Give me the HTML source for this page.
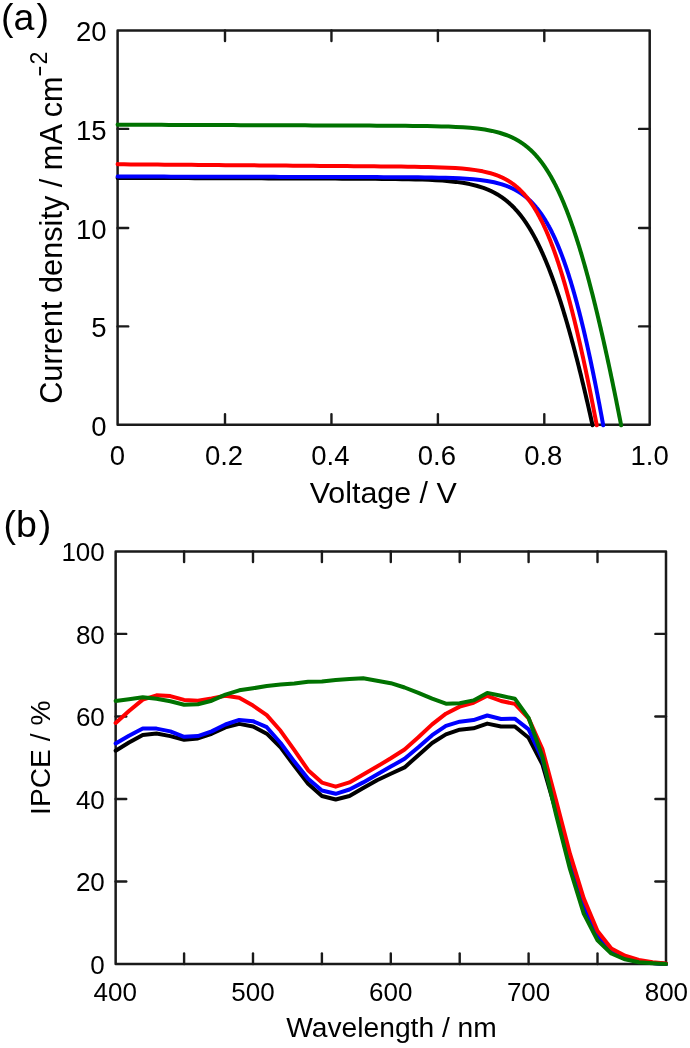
<!DOCTYPE html>
<html><head><meta charset="utf-8"><title>Figure</title>
<style>html,body{margin:0;padding:0;background:#fff;width:690px;height:1048px;overflow:hidden}svg{display:block;filter:blur(0.35px)} .t{will-change:transform}text{font-family:"Liberation Sans",sans-serif}</style>
</head><body>
<svg width="690" height="1048" viewBox="0 0 690 1048"><rect width="690" height="1048" fill="#fff"/><g fill="none" stroke="#1a1a1a" stroke-width="2.5" stroke-linecap="square" stroke-linejoin="round"><rect x="117.6" y="30.5" width="532.10" height="394.20"/></g><g stroke="#1a1a1a" stroke-width="2.4" stroke-linecap="round"><line x1="225.0" y1="424.7" x2="225.0" y2="414.09999999999997"/><line x1="225.0" y1="30.5" x2="225.0" y2="41.1"/><line x1="331.45" y1="424.7" x2="331.45" y2="414.09999999999997"/><line x1="331.45" y1="30.5" x2="331.45" y2="41.1"/><line x1="437.9" y1="424.7" x2="437.9" y2="414.09999999999997"/><line x1="437.9" y1="30.5" x2="437.9" y2="41.1"/><line x1="544.3" y1="424.7" x2="544.3" y2="414.09999999999997"/><line x1="544.3" y1="30.5" x2="544.3" y2="41.1"/><line x1="117.6" y1="326.4" x2="128.2" y2="326.4"/><line x1="649.7" y1="326.4" x2="639.1" y2="326.4"/><line x1="117.6" y1="228.0" x2="128.2" y2="228.0"/><line x1="649.7" y1="228.0" x2="639.1" y2="228.0"/><line x1="117.6" y1="128.9" x2="128.2" y2="128.9"/><line x1="649.7" y1="128.9" x2="639.1" y2="128.9"/></g><g fill="none" stroke="#1a1a1a" stroke-width="2.5" stroke-linecap="square" stroke-linejoin="round"><rect x="115.65" y="551.4" width="550.35" height="412.60"/></g><g stroke="#1a1a1a" stroke-width="2.4" stroke-linecap="round"><line x1="184.10" y1="964.0" x2="184.10" y2="953.4"/><line x1="184.10" y1="551.4" x2="184.10" y2="562.0"/><line x1="253.00" y1="964.0" x2="253.00" y2="953.4"/><line x1="253.00" y1="551.4" x2="253.00" y2="562.0"/><line x1="321.90" y1="964.0" x2="321.90" y2="953.4"/><line x1="321.90" y1="551.4" x2="321.90" y2="562.0"/><line x1="390.80" y1="964.0" x2="390.80" y2="953.4"/><line x1="390.80" y1="551.4" x2="390.80" y2="562.0"/><line x1="459.70" y1="964.0" x2="459.70" y2="953.4"/><line x1="459.70" y1="551.4" x2="459.70" y2="562.0"/><line x1="528.60" y1="964.0" x2="528.60" y2="953.4"/><line x1="528.60" y1="551.4" x2="528.60" y2="562.0"/><line x1="597.50" y1="964.0" x2="597.50" y2="953.4"/><line x1="597.50" y1="551.4" x2="597.50" y2="562.0"/><line x1="115.65" y1="881.48" x2="126.25" y2="881.48"/><line x1="666.0" y1="881.48" x2="655.4" y2="881.48"/><line x1="115.65" y1="798.96" x2="126.25" y2="798.96"/><line x1="666.0" y1="798.96" x2="655.4" y2="798.96"/><line x1="115.65" y1="716.44" x2="126.25" y2="716.44"/><line x1="666.0" y1="716.44" x2="655.4" y2="716.44"/><line x1="115.65" y1="633.92" x2="126.25" y2="633.92"/><line x1="666.0" y1="633.92" x2="655.4" y2="633.92"/></g><g fill="none" stroke-width="4.0" stroke-linejoin="round" stroke-linecap="round"><path d="M117.60,177.80 L117.60,177.82 L117.60,177.84 L117.60,177.86 L117.60,177.89 L121.31,177.91 L128.00,177.93 L134.69,177.95 L141.37,177.97 L148.06,177.99 L154.74,178.02 L161.43,178.04 L168.11,178.06 L174.80,178.08 L181.48,178.10 L188.17,178.12 L194.85,178.15 L201.54,178.17 L208.22,178.19 L214.91,178.21 L221.59,178.23 L228.28,178.25 L234.96,178.27 L241.65,178.30 L248.33,178.32 L255.02,178.34 L261.70,178.36 L268.39,178.38 L275.07,178.41 L281.76,178.43 L288.44,178.45 L295.13,178.47 L301.81,178.49 L308.50,178.52 L315.18,178.54 L321.87,178.57 L328.55,178.59 L335.24,178.62 L341.93,178.65 L348.61,178.67 L355.30,178.71 L361.98,178.74 L368.67,178.78 L375.36,178.83 L382.05,178.88 L388.74,178.95 L395.43,179.03 L402.13,179.13 L408.82,179.25 L415.53,179.40 L422.23,179.60 L428.95,179.85 L435.67,180.18 L442.40,180.61 L449.15,181.16 L455.93,181.89 L462.73,182.84 L469.56,184.09 L476.45,185.74 L483.40,187.91 L483.40,187.91 L483.62,187.99 L483.85,188.07 L484.07,188.15 L484.29,188.23 L484.52,188.31 L484.74,188.40 L484.96,188.48 L485.19,188.57 L485.41,188.65 L485.64,188.74 L485.86,188.82 L486.08,188.91 L486.31,189.00 L486.53,189.09 L486.76,189.18 L486.98,189.27 L487.21,189.36 L487.43,189.45 L487.66,189.55 L487.88,189.64 L488.11,189.74 L488.33,189.83 L488.56,189.93 L488.78,190.03 L489.01,190.12 L489.23,190.22 L489.46,190.32 L489.68,190.43 L489.91,190.53 L490.14,190.63 L490.36,190.73 L490.59,190.84 L490.81,190.94 L491.04,191.05 L491.27,191.16 L491.49,191.27 L491.72,191.38 L491.95,191.49 L492.18,191.60 L492.40,191.71 L492.63,191.82 L492.86,191.94 L493.08,192.05 L493.31,192.17 L493.54,192.29 L493.77,192.40 L494.00,192.52 L494.22,192.64 L494.45,192.77 L494.68,192.89 L494.91,193.01 L495.14,193.14 L495.37,193.26 L495.60,193.39 L495.83,193.52 L496.06,193.65 L496.28,193.78 L496.51,193.91 L496.74,194.04 L496.97,194.18 L497.20,194.31 L497.43,194.45 L497.66,194.58 L497.89,194.72 L498.13,194.86 L498.36,195.00 L498.59,195.15 L498.82,195.29 L499.05,195.44 L499.28,195.58 L499.51,195.73 L499.74,195.88 L499.98,196.03 L500.21,196.18 L500.44,196.33 L500.67,196.49 L500.91,196.64 L501.14,196.80 L501.37,196.96 L501.60,197.12 L501.84,197.28 L502.07,197.44 L502.30,197.61 L502.54,197.77 L502.77,197.94 L503.01,198.11 L503.24,198.28 L503.48,198.45 L503.71,198.62 L503.94,198.80 L504.18,198.97 L504.42,199.15 L504.65,199.33 L504.89,199.51 L505.12,199.70 L505.36,199.88 L505.59,200.07 L505.83,200.25 L506.07,200.44 L506.30,200.63 L506.54,200.83 L506.78,201.02 L507.02,201.22 L507.25,201.41 L507.49,201.61 L507.73,201.81 L507.97,202.02 L508.21,202.22 L508.45,202.43 L508.69,202.64 L508.92,202.85 L509.16,203.06 L509.40,203.27 L509.64,203.49 L509.88,203.71 L510.12,203.93 L510.37,204.15 L510.61,204.37 L510.85,204.60 L511.09,204.83 L511.33,205.06 L511.57,205.29 L511.82,205.52 L512.06,205.76 L512.30,206.00 L512.54,206.24 L512.79,206.48 L513.03,206.73 L513.27,206.97 L513.52,207.22 L513.76,207.47 L514.01,207.73 L514.25,207.98 L514.50,208.24 L514.74,208.50 L514.99,208.76 L515.23,209.03 L515.48,209.29 L515.73,209.56 L515.97,209.84 L516.22,210.11 L516.47,210.39 L516.72,210.67 L516.96,210.95 L517.21,211.23 L517.46,211.52 L517.71,211.81 L517.96,212.10 L518.21,212.40 L518.46,212.69 L518.71,212.99 L518.96,213.30 L519.21,213.60 L519.46,213.91 L519.72,214.22 L519.97,214.53 L520.22,214.85 L520.47,215.17 L520.73,215.49 L520.98,215.82 L521.23,216.14 L521.49,216.47 L521.74,216.81 L522.00,217.15 L522.25,217.48 L522.51,217.83 L522.76,218.17 L523.02,218.52 L523.28,218.87 L523.53,219.23 L523.79,219.59 L524.05,219.95 L524.31,220.31 L524.57,220.68 L524.83,221.05 L525.09,221.43 L525.35,221.80 L525.61,222.18 L525.87,222.57 L526.13,222.96 L526.39,223.35 L526.65,223.74 L526.91,224.14 L527.18,224.54 L527.44,224.95 L527.70,225.36 L527.97,225.77 L528.23,226.19 L528.50,226.61 L528.76,227.03 L529.03,227.46 L529.30,227.89 L529.56,228.33 L529.83,228.77 L530.10,229.21 L530.37,229.66 L530.64,230.11 L530.91,230.56 L531.18,231.02 L531.45,231.48 L531.72,231.95 L531.99,232.42 L532.26,232.90 L532.53,233.38 L532.81,233.86 L533.08,234.35 L533.36,234.84 L533.63,235.34 L533.91,235.84 L534.18,236.35 L534.46,236.86 L534.73,237.38 L535.01,237.90 L535.29,238.42 L535.57,238.95 L535.85,239.48 L536.13,240.02 L536.41,240.57 L536.69,241.11 L536.97,241.67 L537.25,242.23 L537.54,242.79 L537.82,243.36 L538.10,243.93 L538.39,244.51 L538.67,245.09 L538.96,245.68 L539.25,246.27 L539.53,246.87 L539.82,247.48 L540.11,248.09 L540.40,248.70 L540.69,249.32 L540.98,249.95 L541.27,250.58 L541.56,251.22 L541.86,251.86 L542.15,252.51 L542.44,253.17 L542.74,253.83 L543.04,254.50 L543.33,255.17 L543.63,255.85 L543.93,256.53 L544.23,257.22 L544.52,257.92 L544.82,258.62 L545.13,259.33 L545.43,260.05 L545.73,260.77 L546.03,261.50 L546.34,262.23 L546.64,262.97 L546.95,263.72 L547.25,264.48 L547.56,265.24 L547.87,266.01 L548.18,266.78 L548.49,267.56 L548.80,268.35 L549.11,269.15 L549.42,269.95 L549.74,270.76 L550.05,271.58 L550.37,272.41 L550.68,273.24 L551.00,274.08 L551.32,274.93 L551.64,275.78 L551.96,276.64 L552.28,277.51 L552.60,278.39 L552.92,279.28 L553.25,280.17 L553.57,281.07 L553.90,281.98 L554.22,282.90 L554.55,283.82 L554.88,284.76 L555.21,285.70 L555.54,286.65 L555.87,287.61 L556.20,288.58 L556.54,289.56 L556.87,290.54 L557.21,291.54 L557.55,292.54 L557.88,293.55 L558.22,294.57 L558.56,295.60 L558.91,296.64 L559.25,297.69 L559.59,298.75 L559.94,299.81 L560.28,300.89 L560.63,301.98 L560.98,303.07 L561.33,304.18 L561.68,305.30 L562.03,306.42 L562.39,307.56 L562.74,308.70 L563.10,309.86 L563.46,311.03 L563.81,312.20 L564.17,313.39 L564.53,314.59 L564.90,315.80 L565.26,317.02 L565.63,318.25 L565.99,319.49 L566.36,320.74 L566.73,322.00 L567.10,323.28 L567.47,324.56 L567.85,325.86 L568.22,327.17 L568.60,328.49 L568.98,329.82 L569.36,331.17 L569.74,332.53 L570.12,333.89 L570.50,335.28 L570.89,336.67 L571.27,338.07 L571.66,339.49 L572.05,340.92 L572.44,342.37 L572.84,343.82 L573.23,345.29 L573.63,346.78 L574.03,348.27 L574.43,349.78 L574.83,351.30 L575.23,352.84 L575.64,354.39 L576.04,355.95 L576.45,357.53 L576.86,359.12 L577.27,360.73 L577.69,362.35 L578.10,363.98 L578.52,365.63 L578.94,367.30 L579.36,368.98 L579.78,370.67 L580.20,372.38 L580.63,374.10 L581.06,375.84 L581.49,377.60 L581.92,379.37 L582.35,381.16 L582.79,382.96 L583.23,384.78 L583.67,386.61 L584.11,388.47 L584.55,390.33 L585.00,392.22 L585.45,394.12 L585.90,396.04 L586.35,397.97 L586.81,399.93 L587.26,401.90 L587.72,403.88 L588.18,405.89 L588.64,407.91 L589.11,409.95 L589.58,412.01 L590.05,414.09 L590.52,416.19 L590.99,418.30 L591.47,420.44 L591.95,422.59 L592.43,424.76 L592.55,425.30" stroke="#000000"/><path d="M117.60,176.46 L117.60,176.48 L117.60,176.50 L117.60,176.51 L122.90,176.53 L129.76,176.54 L136.63,176.56 L143.49,176.57 L150.36,176.59 L157.22,176.60 L164.09,176.62 L170.95,176.63 L177.82,176.65 L184.68,176.67 L191.55,176.68 L198.41,176.70 L205.28,176.71 L212.14,176.73 L219.01,176.74 L225.87,176.76 L232.74,176.77 L239.60,176.79 L246.47,176.80 L253.33,176.82 L260.20,176.83 L267.06,176.85 L273.93,176.87 L280.79,176.88 L287.66,176.90 L294.52,176.91 L301.39,176.93 L308.25,176.94 L315.12,176.96 L321.98,176.98 L328.85,176.99 L335.72,177.01 L342.58,177.03 L349.45,177.04 L356.31,177.06 L363.18,177.08 L370.04,177.10 L376.91,177.12 L383.77,177.15 L390.64,177.18 L397.51,177.21 L404.37,177.25 L411.24,177.29 L418.11,177.35 L424.98,177.43 L431.85,177.53 L438.73,177.65 L445.61,177.82 L452.49,178.04 L459.38,178.34 L466.28,178.73 L473.20,179.27 L480.13,180.00 L487.08,180.98 L494.07,182.31 L501.10,184.13 L501.10,184.13 L501.32,184.19 L501.54,184.26 L501.76,184.33 L501.98,184.39 L502.20,184.46 L502.42,184.53 L502.64,184.60 L502.86,184.67 L503.08,184.74 L503.30,184.81 L503.52,184.89 L503.74,184.96 L503.96,185.03 L504.18,185.11 L504.40,185.18 L504.62,185.26 L504.84,185.34 L505.06,185.41 L505.28,185.49 L505.50,185.57 L505.72,185.65 L505.94,185.73 L506.16,185.81 L506.38,185.89 L506.60,185.98 L506.83,186.06 L507.05,186.15 L507.27,186.23 L507.49,186.32 L507.71,186.40 L507.93,186.49 L508.15,186.58 L508.38,186.67 L508.60,186.76 L508.82,186.85 L509.04,186.94 L509.26,187.03 L509.48,187.13 L509.71,187.22 L509.93,187.32 L510.15,187.42 L510.37,187.51 L510.60,187.61 L510.82,187.71 L511.04,187.81 L511.26,187.91 L511.49,188.01 L511.71,188.12 L511.93,188.22 L512.15,188.33 L512.38,188.43 L512.60,188.54 L512.82,188.65 L513.05,188.76 L513.27,188.87 L513.50,188.98 L513.72,189.09 L513.94,189.20 L514.17,189.32 L514.39,189.44 L514.61,189.55 L514.84,189.67 L515.06,189.79 L515.29,189.91 L515.51,190.03 L515.74,190.15 L515.96,190.28 L516.19,190.40 L516.41,190.53 L516.64,190.66 L516.86,190.78 L517.09,190.91 L517.31,191.05 L517.54,191.18 L517.76,191.31 L517.99,191.45 L518.22,191.58 L518.44,191.72 L518.67,191.86 L518.89,192.00 L519.12,192.14 L519.35,192.28 L519.57,192.43 L519.80,192.57 L520.03,192.72 L520.25,192.87 L520.48,193.02 L520.71,193.17 L520.94,193.32 L521.16,193.48 L521.39,193.63 L521.62,193.79 L521.85,193.95 L522.08,194.11 L522.30,194.27 L522.53,194.44 L522.76,194.60 L522.99,194.77 L523.22,194.94 L523.45,195.11 L523.68,195.28 L523.91,195.45 L524.14,195.63 L524.37,195.80 L524.60,195.98 L524.83,196.16 L525.06,196.34 L525.29,196.53 L525.52,196.71 L525.75,196.90 L525.98,197.09 L526.21,197.28 L526.44,197.47 L526.67,197.66 L526.90,197.86 L527.13,198.06 L527.37,198.26 L527.60,198.46 L527.83,198.66 L528.06,198.87 L528.30,199.08 L528.53,199.29 L528.76,199.50 L528.99,199.71 L529.23,199.93 L529.46,200.15 L529.69,200.37 L529.93,200.59 L530.16,200.81 L530.40,201.04 L530.63,201.27 L530.87,201.50 L531.10,201.73 L531.34,201.97 L531.57,202.21 L531.81,202.45 L532.04,202.69 L532.28,202.93 L532.51,203.18 L532.75,203.43 L532.99,203.68 L533.22,203.94 L533.46,204.19 L533.70,204.45 L533.94,204.71 L534.17,204.98 L534.41,205.25 L534.65,205.51 L534.89,205.79 L535.13,206.06 L535.37,206.34 L535.61,206.62 L535.85,206.90 L536.08,207.19 L536.32,207.47 L536.56,207.77 L536.81,208.06 L537.05,208.36 L537.29,208.65 L537.53,208.96 L537.77,209.26 L538.01,209.57 L538.25,209.88 L538.50,210.20 L538.74,210.51 L538.98,210.83 L539.23,211.16 L539.47,211.48 L539.71,211.81 L539.96,212.15 L540.20,212.48 L540.45,212.82 L540.69,213.16 L540.94,213.51 L541.18,213.86 L541.43,214.21 L541.67,214.57 L541.92,214.93 L542.17,215.29 L542.41,215.66 L542.66,216.03 L542.91,216.40 L543.16,216.78 L543.41,217.16 L543.66,217.54 L543.90,217.93 L544.15,218.32 L544.40,218.72 L544.65,219.12 L544.90,219.52 L545.16,219.93 L545.41,220.34 L545.66,220.75 L545.91,221.17 L546.16,221.60 L546.42,222.02 L546.67,222.45 L546.92,222.89 L547.18,223.33 L547.43,223.77 L547.69,224.22 L547.94,224.68 L548.20,225.13 L548.45,225.59 L548.71,226.06 L548.97,226.53 L549.22,227.01 L549.48,227.48 L549.74,227.97 L550.00,228.46 L550.26,228.95 L550.52,229.45 L550.78,229.95 L551.04,230.46 L551.30,230.97 L551.56,231.49 L551.82,232.01 L552.08,232.54 L552.34,233.08 L552.61,233.61 L552.87,234.16 L553.14,234.71 L553.40,235.26 L553.66,235.82 L553.93,236.38 L554.20,236.95 L554.46,237.53 L554.73,238.11 L555.00,238.70 L555.27,239.29 L555.53,239.89 L555.80,240.49 L556.07,241.10 L556.34,241.72 L556.61,242.34 L556.89,242.97 L557.16,243.60 L557.43,244.24 L557.70,244.89 L557.98,245.54 L558.25,246.20 L558.53,246.87 L558.80,247.54 L559.08,248.21 L559.35,248.90 L559.63,249.59 L559.91,250.29 L560.19,250.99 L560.47,251.70 L560.75,252.42 L561.03,253.15 L561.31,253.88 L561.59,254.62 L561.87,255.37 L562.15,256.12 L562.44,256.88 L562.72,257.65 L563.01,258.42 L563.29,259.21 L563.58,260.00 L563.87,260.80 L564.15,261.60 L564.44,262.42 L564.73,263.24 L565.02,264.07 L565.31,264.91 L565.60,265.75 L565.90,266.61 L566.19,267.47 L566.48,268.34 L566.78,269.22 L567.07,270.11 L567.37,271.00 L567.67,271.91 L567.96,272.82 L568.26,273.74 L568.56,274.68 L568.86,275.62 L569.16,276.57 L569.47,277.52 L569.77,278.49 L570.07,279.47 L570.38,280.46 L570.68,281.45 L570.99,282.46 L571.30,283.47 L571.60,284.50 L571.91,285.53 L572.22,286.58 L572.53,287.63 L572.85,288.70 L573.16,289.78 L573.47,290.86 L573.79,291.96 L574.10,293.07 L574.42,294.19 L574.74,295.31 L575.06,296.45 L575.38,297.61 L575.70,298.77 L576.02,299.94 L576.34,301.12 L576.66,302.32 L576.99,303.53 L577.32,304.75 L577.64,305.98 L577.97,307.22 L578.30,308.48 L578.63,309.74 L578.96,311.02 L579.29,312.32 L579.63,313.62 L579.96,314.94 L580.30,316.27 L580.64,317.61 L580.98,318.96 L581.32,320.33 L581.66,321.71 L582.00,323.11 L582.34,324.52 L582.69,325.94 L583.03,327.38 L583.38,328.83 L583.73,330.29 L584.08,331.77 L584.43,333.26 L584.78,334.77 L585.14,336.29 L585.49,337.83 L585.85,339.38 L586.21,340.94 L586.57,342.52 L586.93,344.12 L587.29,345.73 L587.65,347.36 L588.02,349.00 L588.39,350.66 L588.75,352.34 L589.12,354.03 L589.49,355.74 L589.87,357.46 L590.24,359.20 L590.62,360.96 L590.99,362.73 L591.37,364.52 L591.75,366.33 L592.14,368.16 L592.52,370.00 L592.91,371.87 L593.29,373.75 L593.68,375.64 L594.07,377.56 L594.46,379.50 L594.86,381.45 L595.25,383.42 L595.65,385.42 L596.05,387.43 L596.45,389.46 L596.85,391.51 L597.26,393.58 L597.67,395.67 L598.07,397.78 L598.48,399.91 L598.90,402.06 L599.31,404.23 L599.73,406.43 L600.14,408.64 L600.56,410.88 L600.99,413.13 L601.41,415.41 L601.84,417.71 L602.26,420.04 L602.69,422.38 L603.13,424.75 L603.23,425.30" stroke="#0000ff"/><path d="M117.60,164.06 L117.60,164.12 L117.60,164.17 L117.60,164.22 L117.60,164.28 L123.98,164.33 L130.74,164.38 L137.50,164.44 L144.26,164.49 L151.02,164.54 L157.77,164.60 L164.53,164.65 L171.29,164.70 L178.05,164.76 L184.81,164.81 L191.57,164.86 L198.33,164.92 L205.09,164.97 L211.85,165.02 L218.61,165.08 L225.37,165.13 L232.13,165.18 L238.89,165.24 L245.65,165.29 L252.41,165.34 L259.17,165.39 L265.93,165.45 L272.69,165.50 L279.45,165.55 L286.21,165.61 L292.97,165.66 L299.73,165.71 L306.49,165.77 L313.25,165.82 L320.01,165.88 L326.77,165.93 L333.53,165.98 L340.29,166.04 L347.05,166.09 L353.81,166.15 L360.57,166.21 L367.33,166.26 L374.09,166.32 L380.85,166.39 L387.61,166.45 L394.37,166.52 L401.13,166.60 L407.90,166.69 L414.66,166.79 L421.43,166.90 L428.20,167.04 L434.97,167.22 L441.75,167.44 L448.53,167.72 L455.33,168.09 L462.13,168.59 L468.96,169.24 L475.81,170.13 L482.69,171.33 L489.62,172.97 L489.62,172.97 L489.84,173.03 L490.06,173.09 L490.28,173.16 L490.50,173.22 L490.72,173.28 L490.94,173.35 L491.16,173.41 L491.38,173.47 L491.60,173.54 L491.82,173.61 L492.04,173.67 L492.27,173.74 L492.49,173.81 L492.71,173.88 L492.93,173.95 L493.15,174.02 L493.37,174.09 L493.59,174.16 L493.81,174.23 L494.03,174.30 L494.25,174.38 L494.48,174.45 L494.70,174.53 L494.92,174.60 L495.14,174.68 L495.36,174.76 L495.58,174.84 L495.81,174.92 L496.03,175.00 L496.25,175.08 L496.47,175.16 L496.69,175.24 L496.92,175.32 L497.14,175.41 L497.36,175.49 L497.58,175.58 L497.81,175.66 L498.03,175.75 L498.25,175.84 L498.48,175.93 L498.70,176.02 L498.92,176.11 L499.15,176.20 L499.37,176.29 L499.59,176.39 L499.82,176.48 L500.04,176.58 L500.26,176.68 L500.49,176.77 L500.71,176.87 L500.94,176.97 L501.16,177.07 L501.38,177.17 L501.61,177.28 L501.83,177.38 L502.06,177.48 L502.28,177.59 L502.51,177.70 L502.73,177.80 L502.96,177.91 L503.18,178.02 L503.41,178.13 L503.63,178.24 L503.86,178.36 L504.08,178.47 L504.31,178.59 L504.54,178.70 L504.76,178.82 L504.99,178.94 L505.21,179.06 L505.44,179.18 L505.67,179.31 L505.89,179.43 L506.12,179.56 L506.35,179.68 L506.58,179.81 L506.80,179.94 L507.03,180.07 L507.26,180.20 L507.49,180.33 L507.71,180.47 L507.94,180.60 L508.17,180.74 L508.40,180.88 L508.63,181.02 L508.85,181.16 L509.08,181.30 L509.31,181.45 L509.54,181.59 L509.77,181.74 L510.00,181.89 L510.23,182.04 L510.46,182.19 L510.69,182.34 L510.92,182.50 L511.15,182.65 L511.38,182.81 L511.61,182.97 L511.84,183.13 L512.07,183.29 L512.30,183.46 L512.53,183.62 L512.77,183.79 L513.00,183.96 L513.23,184.13 L513.46,184.30 L513.69,184.48 L513.93,184.65 L514.16,184.83 L514.39,185.01 L514.62,185.19 L514.86,185.37 L515.09,185.56 L515.32,185.75 L515.56,185.93 L515.79,186.13 L516.03,186.32 L516.26,186.51 L516.50,186.71 L516.73,186.91 L516.97,187.11 L517.20,187.31 L517.44,187.52 L517.67,187.72 L517.91,187.93 L518.14,188.14 L518.38,188.36 L518.62,188.57 L518.85,188.79 L519.09,189.01 L519.33,189.23 L519.57,189.45 L519.80,189.68 L520.04,189.91 L520.28,190.14 L520.52,190.37 L520.76,190.61 L521.00,190.85 L521.24,191.09 L521.48,191.33 L521.72,191.58 L521.96,191.82 L522.20,192.08 L522.44,192.33 L522.68,192.58 L522.92,192.84 L523.16,193.10 L523.40,193.37 L523.64,193.63 L523.89,193.90 L524.13,194.17 L524.37,194.45 L524.62,194.72 L524.86,195.00 L525.10,195.29 L525.35,195.57 L525.59,195.86 L525.84,196.15 L526.08,196.45 L526.33,196.74 L526.57,197.04 L526.82,197.35 L527.07,197.65 L527.31,197.96 L527.56,198.27 L527.81,198.59 L528.06,198.91 L528.30,199.23 L528.55,199.56 L528.80,199.89 L529.05,200.22 L529.30,200.55 L529.55,200.89 L529.80,201.24 L530.05,201.58 L530.30,201.93 L530.55,202.28 L530.81,202.64 L531.06,203.00 L531.31,203.36 L531.56,203.73 L531.82,204.10 L532.07,204.48 L532.33,204.86 L532.58,205.24 L532.84,205.63 L533.09,206.02 L533.35,206.41 L533.60,206.81 L533.86,207.21 L534.12,207.62 L534.38,208.03 L534.63,208.44 L534.89,208.86 L535.15,209.29 L535.41,209.71 L535.67,210.15 L535.93,210.58 L536.19,211.02 L536.45,211.47 L536.72,211.92 L536.98,212.37 L537.24,212.83 L537.51,213.30 L537.77,213.76 L538.03,214.24 L538.30,214.72 L538.56,215.20 L538.83,215.69 L539.10,216.18 L539.36,216.68 L539.63,217.18 L539.90,217.69 L540.17,218.20 L540.44,218.72 L540.71,219.24 L540.98,219.77 L541.25,220.31 L541.52,220.84 L541.79,221.39 L542.07,221.94 L542.34,222.50 L542.62,223.06 L542.89,223.63 L543.17,224.20 L543.44,224.78 L543.72,225.36 L544.00,225.96 L544.27,226.55 L544.55,227.16 L544.83,227.77 L545.11,228.38 L545.39,229.00 L545.67,229.63 L545.95,230.27 L546.24,230.91 L546.52,231.55 L546.80,232.21 L547.09,232.87 L547.38,233.54 L547.66,234.21 L547.95,234.89 L548.24,235.58 L548.52,236.27 L548.81,236.98 L549.10,237.69 L549.40,238.40 L549.69,239.13 L549.98,239.86 L550.27,240.60 L550.57,241.34 L550.86,242.10 L551.16,242.86 L551.45,243.63 L551.75,244.40 L552.05,245.19 L552.35,245.98 L552.65,246.78 L552.95,247.59 L553.25,248.41 L553.55,249.23 L553.86,250.07 L554.16,250.91 L554.47,251.76 L554.77,252.62 L555.08,253.49 L555.39,254.37 L555.70,255.25 L556.01,256.15 L556.32,257.05 L556.63,257.97 L556.95,258.89 L557.26,259.82 L557.57,260.77 L557.89,261.72 L558.21,262.68 L558.53,263.65 L558.85,264.63 L559.17,265.62 L559.49,266.62 L559.81,267.63 L560.13,268.65 L560.46,269.69 L560.79,270.73 L561.11,271.78 L561.44,272.85 L561.77,273.92 L562.10,275.01 L562.43,276.10 L562.77,277.21 L563.10,278.33 L563.44,279.46 L563.77,280.60 L564.11,281.75 L564.45,282.92 L564.79,284.10 L565.13,285.29 L565.48,286.49 L565.82,287.70 L566.17,288.93 L566.52,290.16 L566.86,291.42 L567.21,292.68 L567.57,293.96 L567.92,295.25 L568.27,296.55 L568.63,297.86 L568.99,299.19 L569.34,300.54 L569.70,301.89 L570.07,303.26 L570.43,304.65 L570.79,306.05 L571.16,307.46 L571.53,308.89 L571.90,310.33 L572.27,311.78 L572.64,313.26 L573.01,314.74 L573.39,316.24 L573.77,317.76 L574.15,319.29 L574.53,320.84 L574.91,322.40 L575.29,323.98 L575.68,325.58 L576.07,327.19 L576.46,328.82 L576.85,330.46 L577.24,332.12 L577.64,333.80 L578.03,335.50 L578.43,337.21 L578.83,338.94 L579.24,340.69 L579.64,342.46 L580.05,344.24 L580.45,346.04 L580.87,347.86 L581.28,349.70 L581.69,351.56 L582.11,353.44 L582.53,355.33 L582.95,357.25 L583.37,359.18 L583.79,361.13 L584.22,363.11 L584.65,365.10 L585.08,367.12 L585.52,369.15 L585.95,371.21 L586.39,373.29 L586.83,375.38 L587.27,377.50 L587.72,379.64 L588.16,381.81 L588.61,383.99 L589.07,386.20 L589.52,388.43 L589.98,390.68 L590.44,392.96 L590.90,395.26 L591.36,397.58 L591.83,399.92 L592.30,402.29 L592.77,404.69 L593.25,407.11 L593.73,409.55 L594.21,412.02 L594.69,414.51 L595.18,417.03 L595.66,419.57 L596.16,422.14 L596.65,424.74 L596.76,425.30" stroke="#ff0000"/><path d="M117.60,124.59 L117.60,124.62 L117.60,124.64 L117.60,124.67 L117.60,124.69 L118.68,124.72 L125.85,124.74 L133.02,124.77 L140.19,124.79 L147.36,124.82 L154.53,124.84 L161.70,124.87 L168.87,124.89 L176.04,124.92 L183.21,124.94 L190.38,124.97 L197.55,124.99 L204.72,125.02 L211.89,125.04 L219.06,125.07 L226.23,125.09 L233.40,125.12 L240.57,125.14 L247.74,125.17 L254.91,125.20 L262.08,125.22 L269.25,125.25 L276.42,125.27 L283.59,125.30 L290.76,125.32 L297.93,125.35 L305.10,125.37 L312.27,125.40 L319.44,125.42 L326.61,125.45 L333.78,125.48 L340.95,125.50 L348.12,125.53 L355.29,125.56 L362.46,125.59 L369.63,125.62 L376.80,125.66 L383.98,125.69 L391.15,125.73 L398.32,125.78 L405.49,125.84 L412.67,125.90 L419.85,125.99 L427.03,126.09 L434.21,126.22 L441.40,126.40 L448.59,126.62 L455.79,126.92 L463.01,127.32 L470.24,127.86 L477.49,128.59 L484.78,129.58 L492.10,130.92 L499.48,132.74 L506.95,135.23 L506.95,135.23 L507.17,135.31 L507.39,135.40 L507.62,135.49 L507.84,135.58 L508.06,135.67 L508.29,135.76 L508.51,135.85 L508.74,135.94 L508.96,136.04 L509.19,136.13 L509.41,136.22 L509.64,136.32 L509.86,136.42 L510.09,136.51 L510.31,136.61 L510.54,136.71 L510.76,136.81 L510.99,136.91 L511.21,137.01 L511.44,137.12 L511.66,137.22 L511.89,137.33 L512.11,137.43 L512.34,137.54 L512.57,137.65 L512.79,137.76 L513.02,137.87 L513.25,137.98 L513.47,138.09 L513.70,138.20 L513.93,138.32 L514.15,138.43 L514.38,138.55 L514.61,138.66 L514.83,138.78 L515.06,138.90 L515.29,139.02 L515.52,139.14 L515.74,139.27 L515.97,139.39 L516.20,139.52 L516.43,139.64 L516.66,139.77 L516.89,139.90 L517.11,140.03 L517.34,140.16 L517.57,140.29 L517.80,140.42 L518.03,140.56 L518.26,140.70 L518.49,140.83 L518.72,140.97 L518.95,141.11 L519.18,141.25 L519.41,141.39 L519.64,141.54 L519.87,141.68 L520.10,141.83 L520.33,141.98 L520.56,142.13 L520.79,142.28 L521.03,142.43 L521.26,142.58 L521.49,142.74 L521.72,142.89 L521.95,143.05 L522.19,143.21 L522.42,143.37 L522.65,143.53 L522.88,143.70 L523.12,143.86 L523.35,144.03 L523.58,144.20 L523.82,144.37 L524.05,144.54 L524.28,144.71 L524.52,144.89 L524.75,145.06 L524.99,145.24 L525.22,145.42 L525.45,145.60 L525.69,145.78 L525.93,145.97 L526.16,146.16 L526.40,146.34 L526.63,146.53 L526.87,146.73 L527.10,146.92 L527.34,147.11 L527.58,147.31 L527.81,147.51 L528.05,147.71 L528.29,147.91 L528.53,148.12 L528.76,148.32 L529.00,148.53 L529.24,148.74 L529.48,148.96 L529.72,149.17 L529.96,149.39 L530.20,149.60 L530.44,149.82 L530.67,150.05 L530.91,150.27 L531.15,150.50 L531.40,150.73 L531.64,150.96 L531.88,151.19 L532.12,151.42 L532.36,151.66 L532.60,151.90 L532.84,152.14 L533.09,152.39 L533.33,152.63 L533.57,152.88 L533.81,153.13 L534.06,153.39 L534.30,153.64 L534.54,153.90 L534.79,154.16 L535.03,154.42 L535.28,154.69 L535.52,154.96 L535.77,155.23 L536.01,155.50 L536.26,155.77 L536.51,156.05 L536.75,156.33 L537.00,156.61 L537.25,156.90 L537.49,157.19 L537.74,157.48 L537.99,157.77 L538.24,158.07 L538.49,158.37 L538.74,158.67 L538.99,158.98 L539.24,159.28 L539.49,159.59 L539.74,159.91 L539.99,160.22 L540.24,160.54 L540.49,160.87 L540.74,161.19 L540.99,161.52 L541.25,161.85 L541.50,162.19 L541.75,162.52 L542.01,162.86 L542.26,163.21 L542.51,163.56 L542.77,163.91 L543.03,164.26 L543.28,164.62 L543.54,164.98 L543.79,165.34 L544.05,165.71 L544.31,166.08 L544.56,166.45 L544.82,166.83 L545.08,167.21 L545.34,167.60 L545.60,167.99 L545.86,168.38 L546.12,168.77 L546.38,169.17 L546.64,169.57 L546.90,169.98 L547.16,170.39 L547.43,170.81 L547.69,171.22 L547.95,171.65 L548.22,172.07 L548.48,172.50 L548.75,172.94 L549.01,173.38 L549.28,173.82 L549.54,174.26 L549.81,174.71 L550.08,175.17 L550.34,175.63 L550.61,176.09 L550.88,176.56 L551.15,177.03 L551.42,177.51 L551.69,177.99 L551.96,178.47 L552.23,178.96 L552.51,179.46 L552.78,179.96 L553.05,180.46 L553.32,180.97 L553.60,181.48 L553.87,182.00 L554.15,182.52 L554.42,183.05 L554.70,183.58 L554.98,184.12 L555.26,184.66 L555.53,185.21 L555.81,185.76 L556.09,186.32 L556.37,186.89 L556.65,187.45 L556.93,188.03 L557.22,188.61 L557.50,189.19 L557.78,189.78 L558.07,190.38 L558.35,190.98 L558.64,191.59 L558.92,192.20 L559.21,192.82 L559.49,193.44 L559.78,194.07 L560.07,194.71 L560.36,195.35 L560.65,195.99 L560.94,196.65 L561.23,197.31 L561.53,197.97 L561.82,198.65 L562.11,199.32 L562.41,200.01 L562.70,200.70 L563.00,201.40 L563.29,202.10 L563.59,202.81 L563.89,203.53 L564.19,204.25 L564.49,204.99 L564.79,205.72 L565.09,206.47 L565.39,207.22 L565.70,207.98 L566.00,208.74 L566.31,209.52 L566.61,210.30 L566.92,211.08 L567.23,211.88 L567.53,212.68 L567.84,213.49 L568.15,214.31 L568.46,215.13 L568.78,215.97 L569.09,216.81 L569.40,217.65 L569.72,218.51 L570.03,219.37 L570.35,220.25 L570.67,221.13 L570.99,222.02 L571.31,222.91 L571.63,223.82 L571.95,224.73 L572.27,225.65 L572.59,226.58 L572.92,227.52 L573.24,228.47 L573.57,229.43 L573.90,230.40 L574.23,231.37 L574.56,232.36 L574.89,233.35 L575.22,234.35 L575.55,235.37 L575.89,236.39 L576.22,237.42 L576.56,238.46 L576.90,239.51 L577.24,240.57 L577.58,241.64 L577.92,242.72 L578.26,243.81 L578.61,244.91 L578.95,246.02 L579.30,247.15 L579.64,248.28 L579.99,249.42 L580.34,250.57 L580.69,251.74 L581.05,252.91 L581.40,254.10 L581.76,255.30 L582.11,256.50 L582.47,257.72 L582.83,258.95 L583.19,260.20 L583.55,261.45 L583.91,262.72 L584.28,263.99 L584.64,265.28 L585.01,266.59 L585.38,267.90 L585.75,269.23 L586.12,270.56 L586.50,271.92 L586.87,273.28 L587.25,274.66 L587.63,276.05 L588.01,277.45 L588.39,278.86 L588.77,280.29 L589.15,281.73 L589.54,283.19 L589.93,284.66 L590.32,286.14 L590.71,287.64 L591.10,289.15 L591.49,290.67 L591.89,292.21 L592.29,293.77 L592.68,295.33 L593.09,296.92 L593.49,298.52 L593.89,300.13 L594.30,301.76 L594.71,303.40 L595.12,305.06 L595.53,306.73 L595.94,308.42 L596.36,310.12 L596.77,311.85 L597.19,313.58 L597.61,315.34 L598.04,317.11 L598.46,318.89 L598.89,320.70 L599.32,322.52 L599.75,324.35 L600.18,326.21 L600.62,328.08 L601.05,329.97 L601.49,331.88 L601.93,333.80 L602.38,335.74 L602.82,337.70 L603.27,339.68 L603.72,341.68 L604.17,343.70 L604.63,345.73 L605.08,347.79 L605.54,349.86 L606.00,351.95 L606.47,354.06 L606.93,356.20 L607.40,358.35 L607.87,360.52 L608.35,362.71 L608.82,364.93 L609.30,367.16 L609.78,369.42 L610.26,371.69 L610.75,373.99 L611.24,376.31 L611.73,378.65 L612.22,381.01 L612.72,383.40 L613.21,385.80 L613.71,388.23 L614.22,390.68 L614.73,393.16 L615.23,395.66 L615.75,398.18 L616.26,400.72 L616.78,403.29 L617.30,405.88 L617.82,408.50 L618.35,411.14 L618.88,413.81 L619.41,416.50 L619.95,419.22 L620.48,421.96 L621.02,424.73 L621.14,425.30" stroke="#007200"/></g><g fill="none" stroke-width="4.0" stroke-linejoin="round" stroke-linecap="round"><path d="M115.65,750.70 L128.98,742.50 L142.76,734.90 L156.54,733.50 L170.32,736.10 L184.10,739.70 L197.88,738.40 L211.66,733.80 L225.44,727.40 L239.22,723.90 L253.00,726.50 L266.78,733.70 L280.56,747.30 L294.34,765.90 L308.12,783.80 L321.90,796.00 L335.68,799.50 L349.46,796.00 L363.24,788.10 L377.02,780.20 L390.80,773.80 L404.58,767.40 L418.36,755.20 L432.14,743.00 L445.92,734.40 L459.70,729.70 L473.48,728.30 L487.26,723.60 L501.04,726.50 L514.82,726.50 L528.60,737.80 L542.38,764.30 L556.16,812.00 L569.94,866.00 L583.72,910.00 L597.50,938.00 L611.28,952.00 L625.06,958.00 L638.84,962.00 L652.62,963.00 L666.00,964.00" stroke="#000000"/><path d="M115.65,743.50 L128.98,735.80 L142.76,728.60 L156.54,728.60 L170.32,731.40 L184.10,736.80 L197.88,736.10 L211.66,731.40 L225.44,724.50 L239.22,719.90 L253.00,721.20 L266.78,727.20 L280.56,743.00 L294.34,761.60 L308.12,778.70 L321.90,790.50 L335.68,793.80 L349.46,789.50 L363.24,782.40 L377.02,774.50 L390.80,766.60 L404.58,758.80 L418.36,747.30 L432.14,735.20 L445.92,725.80 L459.70,721.70 L473.48,720.10 L487.26,715.50 L501.04,719.00 L514.82,718.70 L528.60,729.40 L542.38,759.00 L556.16,808.00 L569.94,862.00 L583.72,905.00 L597.50,935.00 L611.28,950.00 L625.06,957.00 L638.84,961.00 L652.62,963.00 L666.00,964.00" stroke="#0000ff"/><path d="M115.65,723.00 L128.98,711.00 L142.76,699.60 L156.54,695.30 L170.32,696.10 L184.10,699.90 L197.88,700.70 L211.66,698.40 L225.44,695.70 L239.22,697.80 L253.00,705.60 L266.78,715.10 L280.56,730.80 L294.34,750.10 L308.12,770.20 L321.90,782.60 L335.68,786.70 L349.46,782.40 L363.24,774.50 L377.02,766.60 L390.80,758.30 L404.58,749.50 L418.36,737.30 L432.14,724.40 L445.92,713.70 L459.70,706.60 L473.48,702.80 L487.26,695.80 L501.04,701.00 L514.82,703.90 L528.60,718.40 L542.38,749.00 L556.16,800.70 L569.94,853.70 L583.72,898.40 L597.50,931.00 L611.28,948.40 L625.06,955.70 L638.84,960.00 L652.62,962.20 L666.00,963.50" stroke="#ff0000"/><path d="M115.65,700.90 L128.98,699.20 L142.76,697.20 L156.54,698.80 L170.32,701.30 L184.10,704.80 L197.88,704.20 L211.66,700.70 L225.44,694.60 L239.22,690.30 L253.00,688.30 L266.78,686.00 L280.56,684.60 L294.34,683.60 L308.12,681.70 L321.90,681.50 L335.68,680.00 L349.46,678.90 L363.24,678.30 L377.02,680.80 L390.80,683.20 L404.58,687.50 L418.36,692.90 L432.14,698.70 L445.92,703.70 L459.70,703.20 L473.48,700.40 L487.26,692.90 L501.04,695.80 L514.82,698.70 L528.60,717.80 L542.38,756.50 L556.16,815.00 L569.94,869.00 L583.72,913.60 L597.50,940.40 L611.28,953.50 L625.06,959.30 L638.84,962.20 L652.62,963.20 L666.00,964.00" stroke="#007200"/></g><g class="t" font-family="Liberation Sans, sans-serif" fill="#000"><text x="1.0" y="29.9" font-size="37.5" text-anchor="start" >(a<tspan dx="2.2">)</tspan></text><text x="3.5" y="536.7" font-size="37.5" text-anchor="start" >(b<tspan dx="2">)</tspan></text><text x="106.6" y="435.59999999999997" font-size="27.5" text-anchor="end" >0</text><text x="106.6" y="337.09999999999997" font-size="27.5" text-anchor="end" >5</text><text x="106.6" y="238.70000000000002" font-size="27.5" text-anchor="end" >10</text><text x="106.6" y="139.60000000000002" font-size="27.5" text-anchor="end" >15</text><text x="106.6" y="41.199999999999996" font-size="27.5" text-anchor="end" >20</text><text x="117.4" y="464.6" font-size="27.5" text-anchor="middle" >0</text><text x="224.0" y="464.6" font-size="27.5" text-anchor="middle" >0.2</text><text x="330.45" y="464.6" font-size="27.5" text-anchor="middle" >0.4</text><text x="436.9" y="464.6" font-size="27.5" text-anchor="middle" >0.6</text><text x="543.3" y="464.6" font-size="27.5" text-anchor="middle" >0.8</text><text x="649.7" y="464.6" font-size="27.5" text-anchor="middle" >1.0</text><text x="383.2" y="503.0" font-size="30.4" text-anchor="middle" >Voltage / V</text><text transform="translate(62.4,403.8) rotate(-90)" font-size="30.7">Current density / mA cm</text><text transform="translate(47.4,64.6) rotate(-90)" font-size="23.2">2</text><rect x="39.1" y="66.8" width="1.9" height="8.6" fill="#000"/><text x="104.8" y="973.96" font-size="26.0" text-anchor="end" >0</text><text x="104.8" y="891.44" font-size="26.0" text-anchor="end" >20</text><text x="104.8" y="808.9200000000001" font-size="26.0" text-anchor="end" >40</text><text x="104.8" y="726.4" font-size="26.0" text-anchor="end" >60</text><text x="104.8" y="643.88" font-size="26.0" text-anchor="end" >80</text><text x="104.8" y="561.36" font-size="26.0" text-anchor="end" >100</text><text x="115.2" y="1001.0" font-size="26.0" text-anchor="middle" >400</text><text x="253.0" y="1001.0" font-size="26.0" text-anchor="middle" >500</text><text x="390.79999999999995" y="1001.0" font-size="26.0" text-anchor="middle" >600</text><text x="528.6" y="1001.0" font-size="26.0" text-anchor="middle" >700</text><text x="666.4" y="1001.0" font-size="26.0" text-anchor="middle" >800</text><text x="391.5" y="1037.0" font-size="28.2" text-anchor="middle" >Wavelength / nm</text><text transform="translate(49.9,814.9) rotate(-90)" font-size="28.2">IPCE / %</text></g></svg>
</body></html>
